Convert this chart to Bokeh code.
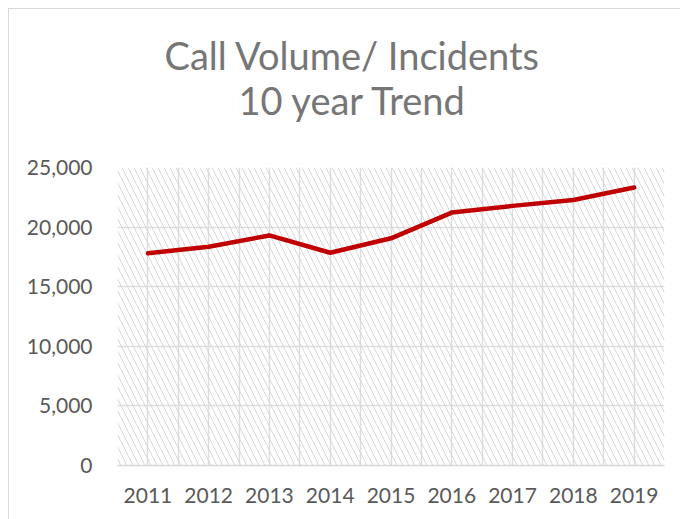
from bokeh.plotting import figure
from bokeh.models import (FixedTicker, NumeralTickFormatter, BoxAnnotation, Range1d, Title)
from bokeh.embed import file_html
from bokeh.resources import INLINE

years = ["2011", "2012", "2013", "2014", "2015", "2016", "2017", "2018", "2019"]
incidents = [17800, 18350, 19300, 17850, 19060, 21220, 21780, 22280, 23320]
y_ticks = [0, 5000, 10000, 15000, 20000, 25000]
title_lines = ["Call Volume/ Incidents", "10 year Trend"]

xs = list(range(1, len(years) + 1))

p = figure(width=672, height=511, output_backend="svg", toolbar_location=None,
           x_range=Range1d(0.5, len(years) + 0.5), y_range=Range1d(0, 25000),
           min_border_left=108, min_border_right=17, min_border_top=158, min_border_bottom=55,
           title=None)
p.margin = (8, 0, 0, 8)
p.outline_line_color = None
p.background_fill_color = "white"
p.border_fill_color = "white"
p.styles = {"border-top": "1px solid #d9d9d9", "border-left": "1px solid #d9d9d9"}

# title: two centred lines (second line nearest the plot)
p.add_layout(Title(text=title_lines[1], align="left", offset=121, text_font="Lato",
                   text_font_size="38px", text_font_style="normal", text_color="#767676",
                   standoff=89), "above")
p.add_layout(Title(text=title_lines[0], align="left", offset=47, text_font="Lato",
                   text_font_size="38px", text_font_style="normal", text_color="#767676",
                   standoff=-95), "above")

# hatched plot area
p.add_layout(BoxAnnotation(fill_color="white", fill_alpha=0, line_color=None,
                           hatch_pattern="left_diagonal_line", hatch_color="#d4d4d4",
                           hatch_scale=12, hatch_weight=1, hatch_alpha=0.9, level="underlay"))

# grids
p.ygrid.ticker = FixedTicker(ticks=y_ticks)
p.ygrid.grid_line_color = "#dddddd"
p.ygrid.grid_line_width = 1.5
half_ticks = [0.5 + 0.5 * i for i in range(2 * len(years) + 1)]
p.xgrid.ticker = FixedTicker(ticks=half_ticks)
p.xgrid.grid_line_color = "#dddddd"
p.xgrid.grid_line_width = 1.5

# axes
p.yaxis.ticker = FixedTicker(ticks=y_ticks)
p.yaxis.formatter = NumeralTickFormatter(format="0,0")
p.yaxis.axis_line_color = None
p.yaxis.major_tick_line_color = None
p.yaxis.minor_tick_line_color = None
p.yaxis.major_label_standoff = 19
p.xaxis.ticker = FixedTicker(ticks=xs)
p.xaxis.major_label_overrides = {x: y for x, y in zip(xs, years)}
p.xaxis.axis_line_color = "#d6d6d6"
p.xaxis.axis_line_width = 1.5
p.xaxis.major_tick_line_color = None
p.xaxis.minor_tick_line_color = None
p.xaxis.major_label_standoff = 16
for ax in (p.xaxis, p.yaxis):
    ax.major_label_text_font = "Lato"
    ax.major_label_text_font_size = "21px"
    ax.major_label_text_color = "#595959"

p.line(xs, incidents, line_color="#C00000", line_width=4.5, line_join="round", line_cap="round")

open("out.html", "w").write(file_html(p, INLINE))
